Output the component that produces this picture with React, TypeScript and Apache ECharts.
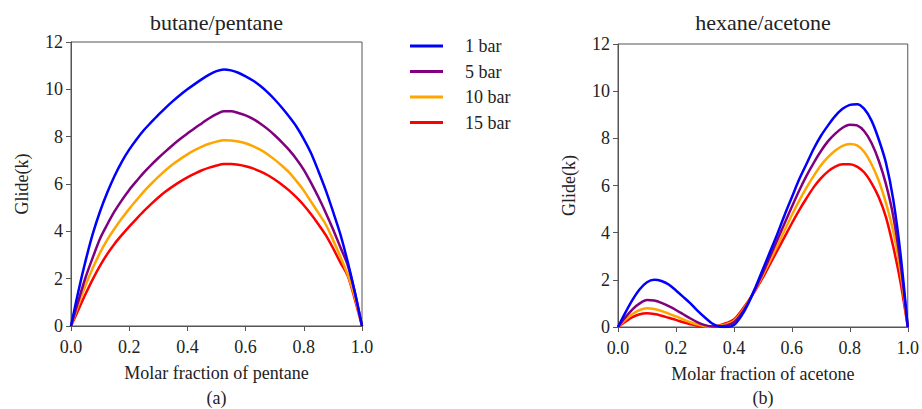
import React, { useEffect, useRef } from "react";
import * as echarts from "echarts";

const FONT = "Liberation Serif, Times New Roman, serif";

const seriesNames = ["1 bar", "5 bar", "10 bar", "15 bar"];
const seriesColors = ["#0000ff", "#800080", "#ffa500", "#ff0000"];

// shared x grid, step 0.025
const xGrid = [0, 0.025, 0.05, 0.075, 0.1, 0.125, 0.15, 0.175, 0.2, 0.225, 0.25, 0.275, 0.3, 0.325, 0.35, 0.375, 0.4, 0.425, 0.45, 0.475, 0.5, 0.525, 0.55, 0.575, 0.6, 0.625, 0.65, 0.675, 0.7, 0.725, 0.75, 0.775, 0.8, 0.825, 0.85, 0.875, 0.9, 0.925, 0.95, 0.975, 1];

// (a) butane/pentane
const a1bar = [0, 1.45, 2.75, 3.9, 4.85, 5.65, 6.35, 6.95, 7.45, 7.88, 8.27, 8.6, 8.92, 9.22, 9.5, 9.76, 10.0, 10.22, 10.43, 10.62, 10.77, 10.84, 10.8, 10.7, 10.55, 10.37, 10.15, 9.88, 9.57, 9.22, 8.84, 8.42, 7.9, 7.3, 6.55, 5.75, 4.85, 3.9, 2.75, 1.45, 0];
const a5bar = [0, 1.05, 2.05, 2.9, 3.7, 4.3, 4.85, 5.32, 5.75, 6.12, 6.48, 6.8, 7.1, 7.38, 7.65, 7.9, 8.13, 8.36, 8.57, 8.78, 8.95, 9.07, 9.07, 9.0, 8.9, 8.75, 8.56, 8.33, 8.06, 7.76, 7.43, 7.05, 6.6, 6.05, 5.45, 4.8, 4.1, 3.35, 2.6, 1.45, 0];
const a10bar = [0, 0.88, 1.72, 2.45, 3.1, 3.65, 4.12, 4.55, 4.95, 5.32, 5.68, 6.0, 6.3, 6.58, 6.83, 7.05, 7.25, 7.43, 7.58, 7.7, 7.79, 7.85, 7.84, 7.8, 7.72, 7.6, 7.45, 7.26, 7.03, 6.77, 6.48, 6.12, 5.72, 5.25, 4.78, 4.3, 3.65, 2.95, 2.2, 1.25, 0];
const a15bar = [0, 0.68, 1.35, 1.98, 2.55, 3.05, 3.48, 3.85, 4.2, 4.53, 4.85, 5.15, 5.43, 5.68, 5.9, 6.1, 6.28, 6.44, 6.58, 6.69, 6.78, 6.84, 6.84, 6.81, 6.75, 6.66, 6.53, 6.38, 6.19, 5.97, 5.72, 5.43, 5.1, 4.72, 4.3, 3.85, 3.3, 2.7, 2.15, 1.15, 0];

// (b) hexane/acetone
const b1bar = [0, 0.6, 1.15, 1.6, 1.9, 2.0, 1.95, 1.8, 1.55, 1.28, 1.0, 0.68, 0.4, 0.15, 0.02, 0.0, 0.08, 0.45, 1.0, 1.7, 2.45, 3.2, 3.95, 4.75, 5.5, 6.25, 6.9, 7.55, 8.1, 8.55, 8.95, 9.25, 9.42, 9.45, 9.25, 8.75, 7.95, 6.95, 5.4, 3.1, 0];
const b5bar = [0, 0.4, 0.75, 1.0, 1.14, 1.12, 1.02, 0.88, 0.72, 0.54, 0.36, 0.2, 0.08, 0.02, 0.02, 0.07, 0.2, 0.55, 1.05, 1.65, 2.3, 3.0, 3.7, 4.4, 5.1, 5.78, 6.4, 6.95, 7.45, 7.88, 8.2, 8.45, 8.58, 8.55, 8.3, 7.8, 7.05, 6.05, 4.7, 2.7, 0];
const b10bar = [0, 0.3, 0.55, 0.72, 0.79, 0.76, 0.68, 0.57, 0.45, 0.32, 0.2, 0.1, 0.03, 0.01, 0.04, 0.12, 0.26, 0.6, 1.08, 1.62, 2.2, 2.82, 3.45, 4.1, 4.75, 5.35, 5.9, 6.4, 6.85, 7.2, 7.48, 7.68, 7.76, 7.7, 7.42, 6.9, 6.2, 5.25, 4.05, 2.35, 0];
const b15bar = [0, 0.22, 0.42, 0.54, 0.58, 0.55, 0.48, 0.39, 0.3, 0.2, 0.12, 0.05, 0.01, 0.02, 0.07, 0.17, 0.32, 0.68, 1.1, 1.58, 2.1, 2.68, 3.25, 3.82, 4.4, 4.95, 5.45, 5.92, 6.3, 6.6, 6.8, 6.9, 6.9, 6.8, 6.55, 6.1, 5.5, 4.65, 3.4, 1.9, 0];

const xTicks = { min: 0, max: 1, interval: 0.2 };
const yTicks = { min: 0, max: 12, interval: 2 };

const titles = ["butane/pentane", "hexane/acetone"];
const xNames = ["Molar fraction of pentane", "Molar fraction of acetone"];
const yName = "Glide(k)";
const subLabels = ["(a)", "(b)"];

const AXIS_COLOR = "#555";
const TEXT_COLOR = "#222";

const grids = [
  { left: 71, top: 42, width: 291, height: 284 },
  { left: 618, top: 44, width: 290, height: 283 },
];

function pairs(xs: number[], ys: number[]) {
  return xs.map((x, i) => [x, ys[i]]);
}

export default function App() {
  const ref = useRef<HTMLDivElement>(null);

  useEffect(() => {
    if (!ref.current) return;
    const chart = echarts.init(ref.current, undefined, { renderer: "svg" });

    const setA = [a1bar, a5bar, a10bar, a15bar];
    const setB = [b1bar, b5bar, b10bar, b15bar];

    const series: any[] = [];
    [setA, setB].forEach((set, gi) => {
      set.forEach((vals, si) => {
        series.push({
          type: "line",
          name: seriesNames[si],
          xAxisIndex: gi,
          yAxisIndex: gi,
          data: pairs(xGrid, vals),
          showSymbol: false,
          smooth: 0.3,
          lineStyle: { width: 2.5, color: seriesColors[si] },
          itemStyle: { color: seriesColors[si] },
          z: 10 - si,
        });
      });
    });

    const labelStyle = { color: TEXT_COLOR, fontSize: 18, fontFamily: FONT };

    const xAxes = grids.map((_, gi) => ({
      gridIndex: gi,
      type: "value",
      min: xTicks.min,
      max: xTicks.max,
      interval: xTicks.interval,
      axisLine: { show: true, onZero: false, lineStyle: { color: AXIS_COLOR, width: 1 } },
      axisTick: { show: true, inside: false, length: 5, lineStyle: { color: AXIS_COLOR } },
      splitLine: { show: false },
      axisLabel: {
        ...labelStyle,
        formatter: (v: number) => v.toFixed(1),
        margin: 12,
      },
      name: xNames[gi],
      nameLocation: "middle",
      nameGap: 38,
      nameTextStyle: { ...labelStyle },
    }));

    const yAxes = grids.map((_, gi) => ({
      gridIndex: gi,
      type: "value",
      min: yTicks.min,
      max: yTicks.max,
      interval: yTicks.interval,
      axisLine: { show: true, onZero: false, lineStyle: { color: AXIS_COLOR, width: 1 } },
      axisTick: { show: true, inside: false, length: 5, lineStyle: { color: AXIS_COLOR } },
      splitLine: { show: false },
      axisLabel: { ...labelStyle, margin: 8 },
      name: yName,
      nameLocation: "middle",
      nameGap: 40,
      nameTextStyle: { ...labelStyle },
    }));

    const graphics: any[] = [];
    grids.forEach((g, gi) => {
      const cx = g.left + g.width / 2;
      graphics.push({
        type: "text",
        x: cx,
        y: 22,
        style: {
          text: titles[gi],
          font: `22px ${FONT}`,
          fill: TEXT_COLOR,
          textAlign: "center",
          textVerticalAlign: "middle",
        },
      });
      graphics.push({
        type: "text",
        x: cx,
        y: 398,
        style: {
          text: subLabels[gi],
          font: `18px ${FONT}`,
          fill: TEXT_COLOR,
          textAlign: "center",
          textVerticalAlign: "middle",
        },
      });
    });

    chart.setOption({
      animation: false,
      backgroundColor: "#ffffff",
      textStyle: { fontFamily: FONT, fontSize: 18, color: TEXT_COLOR },
      grid: grids.map((g) => ({
        ...g,
        show: true,
        borderColor: AXIS_COLOR,
        borderWidth: 1,
        backgroundColor: "transparent",
        containLabel: false,
      })),
      xAxis: xAxes,
      yAxis: yAxes,
      legend: {
        orient: "vertical",
        left: 405,
        top: 32,
        icon: "rect",
        itemWidth: 33,
        itemHeight: 3,
        itemGap: 7.5,
        data: seriesNames,
        textStyle: {
          ...labelStyle,
          padding: [0, 0, 0, 17],
        },
      },
      graphic: graphics,
      series,
    });

    return () => {
      chart.dispose();
    };
  }, []);

  return (
    <div
      ref={ref}
      style={{ position: "fixed", left: 0, top: 0, width: 922, height: 409, background: "#fff" }}
    />
  );
}
